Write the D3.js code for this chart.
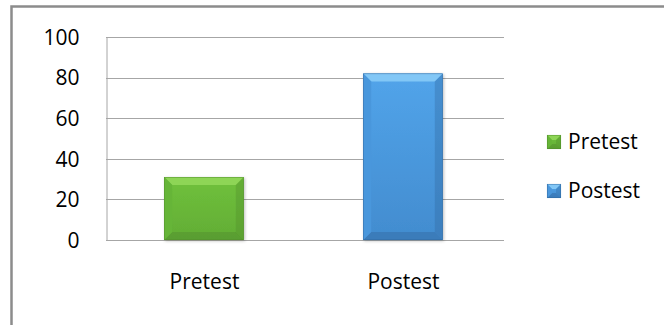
<!DOCTYPE html>
<html>
<head>
<meta charset="utf-8">
<script src="https://cdn.jsdelivr.net/npm/d3@7"></script>
<style>
  html, body { margin: 0; padding: 0; background: #fff; }
  svg { display: block; }
  text { font-family: "Open Sans", "Liberation Sans", sans-serif; fill: #000; }
</style>
</head>
<body>
<svg id="chart" width="664" height="325"></svg>
<script>
// Scores by test
const categories = ["Pretest", "Postest"];
const values = [31, 82];
const yTicks = [0, 20, 40, 60, 80, 100];
const seriesNames = ["Pretest", "Postest"];

// Bevel palettes
const palettes = [
  { id: "g", top: "#70c13c", bottom: "#62ad35", hi: "#8ed556", lo: "#4f8c2b", side: "#66b537" },
  { id: "b", top: "#52a4ea", bottom: "#428ccf", hi: "#82c7f6", lo: "#30679f", side: "#4a97dc" }
];

const svg = d3.select("#chart");
const x0 = 106, x1 = 504;

// Outer frame (runs off the right/bottom edge)
svg.append("rect")
  .attr("x", 11.5).attr("y", 6.5)
  .attr("width", 680).attr("height", 340)
  .attr("fill", "#fff")
  .attr("stroke", "#8c8c8c").attr("stroke-width", 2.5);

const defs = svg.append("defs");
palettes.forEach(p => {
  const g = defs.append("linearGradient").attr("id", "body-" + p.id)
    .attr("x1", 0).attr("y1", 0).attr("x2", 0).attr("y2", 1);
  g.append("stop").attr("offset", "0%").attr("stop-color", p.top);
  g.append("stop").attr("offset", "100%").attr("stop-color", p.bottom);
});
const shadow = defs.append("filter").attr("id", "shadow")
  .attr("x", "-20%").attr("y", "-20%").attr("width", "140%").attr("height", "140%");
shadow.append("feDropShadow").attr("dx", 1).attr("dy", 1)
  .attr("stdDeviation", 1.5).attr("flood-color", "#000").attr("flood-opacity", 0.25);

const y = d3.scaleLinear().domain([0, 100]).range([240, 37]);
const x = d3.scaleBand().domain(categories).range([x0, x1])
  .paddingInner(0.6).paddingOuter(0.3);

// Gridlines
svg.append("g").selectAll("line").data(yTicks).join("line")
  .attr("x1", x0).attr("x2", x1)
  .attr("y1", d => Math.round(y(d)) + 0.5).attr("y2", d => Math.round(y(d)) + 0.5)
  .attr("stroke", "#a6a6a6").attr("stroke-width", 1);

// Value axis
const yAxis = svg.append("g").attr("transform", `translate(${x0 + 0.5},0)`)
  .call(d3.axisLeft(y).tickValues(yTicks).tickSize(0).tickPadding(27));
yAxis.select(".domain").attr("stroke", "#a6a6a6");
yAxis.selectAll("text").style("font-family", '"Open Sans", sans-serif')
  .style("font-size", "21px").attr("fill", "#000").attr("dy", "0.35em");

// Category labels
svg.append("g").selectAll("text").data(categories).join("text")
  .attr("x", d => x(d) + x.bandwidth() / 2 - 1)
  .attr("y", 282)
  .attr("dy", "0.35em")
  .attr("text-anchor", "middle")
  .style("font-size", "21px")
  .text(d => d);

// Bevelled box drawn at (bx,by) with size (w,h)
function bevel(g, bx, by, w, h, p, b) {
  g.append("rect").attr("x", bx).attr("y", by).attr("width", w).attr("height", h)
    .attr("fill", `url(#body-${p.id})`);
  const pt = a => a.map(q => q.join(",")).join(" ");
  // top
  g.append("polygon").attr("points", pt([[bx, by], [bx + w, by], [bx + w - b, by + b], [bx + b, by + b]]))
    .attr("fill", p.hi);
  // bottom
  g.append("polygon").attr("points", pt([[bx, by + h], [bx + w, by + h], [bx + w - b, by + h - b], [bx + b, by + h - b]]))
    .attr("fill", p.lo).attr("opacity", 0.45);
  // left
  g.append("polygon").attr("points", pt([[bx, by], [bx + b, by + b], [bx + b, by + h - b], [bx, by + h]]))
    .attr("fill", p.side);
  // right
  g.append("polygon").attr("points", pt([[bx + w, by], [bx + w - b, by + b], [bx + w - b, by + h - b], [bx + w, by + h]]))
    .attr("fill", p.lo).attr("opacity", 0.35);
  g.append("rect").attr("x", bx + 0.25).attr("y", by + 0.25).attr("width", w - 0.5).attr("height", h - 0.5)
    .attr("fill", "none").attr("stroke", p.lo).attr("stroke-width", 0.6).attr("opacity", 0.8);
}

// Bars
categories.forEach((c, i) => {
  const g = svg.append("g").attr("filter", "url(#shadow)");
  const bx = x(c) - 1.5, w = x.bandwidth();
  const top = y(values[i]), h = y(0) - top;
  bevel(g, bx, top, w, h, palettes[i], 8);
});

// Legend
const legend = svg.append("g");
seriesNames.forEach((s, i) => {
  const ly = 142 + i * 49;
  bevel(legend.append("g"), 547, ly - 7, 14, 14, palettes[i], 5);
  legend.append("text").attr("x", 568).attr("y", ly).attr("dy", "0.35em")
    .style("font-size", "21px").text(s);
});
</script>
</body>
</html>
